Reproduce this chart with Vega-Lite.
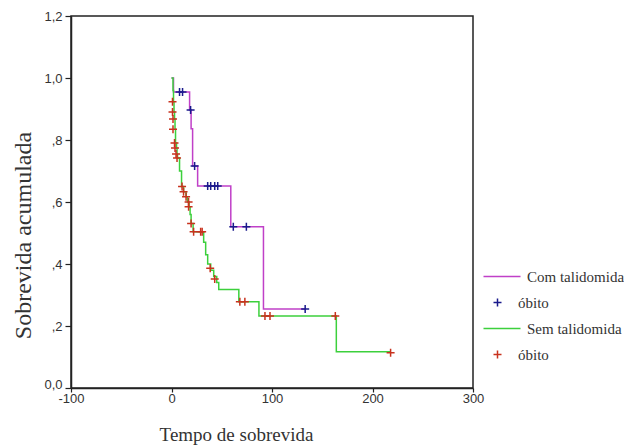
{
  "$schema": "https://vega.github.io/schema/vega-lite/v6.json",
  "width": 402,
  "height": 372,
  "autosize": {"type": "none"},
  "padding": {"left": 71, "top": 16, "right": 151, "bottom": 59},
  "background": "white",
  "config": {
    "view": {"stroke": "#222", "strokeWidth": 1.5},
    "axis": {
      "grid": false,
      "domainColor": "#222",
      "domainWidth": 1.5,
      "tickColor": "#222",
      "tickWidth": 1.2,
      "labelFont": "Liberation Sans",
      "labelFontSize": 13,
      "labelColor": "#333",
      "titleFont": "Liberation Serif",
      "titleFontWeight": "normal",
      "titleColor": "#333"
    }
  },
  "datasets": {
    "km": [
      {"serie": "Com talidomida", "tipo": "curva", "t": 0, "s": 1.0},
      {"serie": "Com talidomida", "tipo": "curva", "t": 2, "s": 0.955},
      {"serie": "Com talidomida", "tipo": "curva", "t": 18, "s": 0.897},
      {"serie": "Com talidomida", "tipo": "curva", "t": 19.5, "s": 0.836},
      {"serie": "Com talidomida", "tipo": "curva", "t": 21, "s": 0.716},
      {"serie": "Com talidomida", "tipo": "curva", "t": 26, "s": 0.652},
      {"serie": "Com talidomida", "tipo": "curva", "t": 59, "s": 0.52},
      {"serie": "Com talidomida", "tipo": "curva", "t": 91.5, "s": 0.255},
      {"serie": "Com talidomida", "tipo": "curva", "t": 133, "s": 0.255},
      {"serie": "óbito (com)", "tipo": "censura", "t": 8, "s": 0.955},
      {"serie": "óbito (com)", "tipo": "censura", "t": 11, "s": 0.955},
      {"serie": "óbito (com)", "tipo": "censura", "t": 19, "s": 0.897},
      {"serie": "óbito (com)", "tipo": "censura", "t": 23, "s": 0.716},
      {"serie": "óbito (com)", "tipo": "censura", "t": 36, "s": 0.652},
      {"serie": "óbito (com)", "tipo": "censura", "t": 39, "s": 0.652},
      {"serie": "óbito (com)", "tipo": "censura", "t": 43, "s": 0.652},
      {"serie": "óbito (com)", "tipo": "censura", "t": 46, "s": 0.652},
      {"serie": "óbito (com)", "tipo": "censura", "t": 61.5, "s": 0.52},
      {"serie": "óbito (com)", "tipo": "censura", "t": 74.5, "s": 0.52},
      {"serie": "óbito (com)", "tipo": "censura", "t": 133, "s": 0.255},
      {"serie": "Sem talidomida", "tipo": "curva", "t": 0, "s": 1.0},
      {"serie": "Sem talidomida", "tipo": "curva", "t": 1.5, "s": 0.96},
      {"serie": "Sem talidomida", "tipo": "curva", "t": 2, "s": 0.923},
      {"serie": "Sem talidomida", "tipo": "curva", "t": 2.5, "s": 0.89},
      {"serie": "Sem talidomida", "tipo": "curva", "t": 3, "s": 0.868},
      {"serie": "Sem talidomida", "tipo": "curva", "t": 3.5, "s": 0.835},
      {"serie": "Sem talidomida", "tipo": "curva", "t": 4, "s": 0.79},
      {"serie": "Sem talidomida", "tipo": "curva", "t": 5, "s": 0.774},
      {"serie": "Sem talidomida", "tipo": "curva", "t": 5.5, "s": 0.755},
      {"serie": "Sem talidomida", "tipo": "curva", "t": 6, "s": 0.742},
      {"serie": "Sem talidomida", "tipo": "curva", "t": 8, "s": 0.7},
      {"serie": "Sem talidomida", "tipo": "curva", "t": 10, "s": 0.65},
      {"serie": "Sem talidomida", "tipo": "curva", "t": 12, "s": 0.633},
      {"serie": "Sem talidomida", "tipo": "curva", "t": 14.5, "s": 0.617},
      {"serie": "Sem talidomida", "tipo": "curva", "t": 16, "s": 0.6},
      {"serie": "Sem talidomida", "tipo": "curva", "t": 17.5, "s": 0.585},
      {"serie": "Sem talidomida", "tipo": "curva", "t": 18.5, "s": 0.56},
      {"serie": "Sem talidomida", "tipo": "curva", "t": 19.5, "s": 0.531},
      {"serie": "Sem talidomida", "tipo": "curva", "t": 21.5, "s": 0.504},
      {"serie": "Sem talidomida", "tipo": "curva", "t": 32, "s": 0.47},
      {"serie": "Sem talidomida", "tipo": "curva", "t": 34, "s": 0.43},
      {"serie": "Sem talidomida", "tipo": "curva", "t": 36, "s": 0.4},
      {"serie": "Sem talidomida", "tipo": "curva", "t": 39, "s": 0.38},
      {"serie": "Sem talidomida", "tipo": "curva", "t": 42, "s": 0.36},
      {"serie": "Sem talidomida", "tipo": "curva", "t": 45, "s": 0.34},
      {"serie": "Sem talidomida", "tipo": "curva", "t": 47, "s": 0.318},
      {"serie": "Sem talidomida", "tipo": "curva", "t": 67, "s": 0.278},
      {"serie": "Sem talidomida", "tipo": "curva", "t": 87, "s": 0.232},
      {"serie": "Sem talidomida", "tipo": "curva", "t": 164, "s": 0.117},
      {"serie": "Sem talidomida", "tipo": "curva", "t": 218, "s": 0.117},
      {"serie": "óbito (sem)", "tipo": "censura", "t": 1, "s": 0.923},
      {"serie": "óbito (sem)", "tipo": "censura", "t": 1, "s": 0.89},
      {"serie": "óbito (sem)", "tipo": "censura", "t": 1.5, "s": 0.868},
      {"serie": "óbito (sem)", "tipo": "censura", "t": 1.5, "s": 0.835},
      {"serie": "óbito (sem)", "tipo": "censura", "t": 3, "s": 0.79},
      {"serie": "óbito (sem)", "tipo": "censura", "t": 3.5, "s": 0.774},
      {"serie": "óbito (sem)", "tipo": "censura", "t": 4.5, "s": 0.755},
      {"serie": "óbito (sem)", "tipo": "censura", "t": 5.5, "s": 0.742},
      {"serie": "óbito (sem)", "tipo": "censura", "t": 10.5, "s": 0.65},
      {"serie": "óbito (sem)", "tipo": "censura", "t": 12, "s": 0.633},
      {"serie": "óbito (sem)", "tipo": "censura", "t": 14.5, "s": 0.617},
      {"serie": "óbito (sem)", "tipo": "censura", "t": 17, "s": 0.6},
      {"serie": "óbito (sem)", "tipo": "censura", "t": 17, "s": 0.585},
      {"serie": "óbito (sem)", "tipo": "censura", "t": 19.5, "s": 0.531},
      {"serie": "óbito (sem)", "tipo": "censura", "t": 22, "s": 0.504},
      {"serie": "óbito (sem)", "tipo": "censura", "t": 29, "s": 0.504},
      {"serie": "óbito (sem)", "tipo": "censura", "t": 30.5, "s": 0.504},
      {"serie": "óbito (sem)", "tipo": "censura", "t": 38.5, "s": 0.386},
      {"serie": "óbito (sem)", "tipo": "censura", "t": 43, "s": 0.352},
      {"serie": "óbito (sem)", "tipo": "censura", "t": 68, "s": 0.278},
      {"serie": "óbito (sem)", "tipo": "censura", "t": 73, "s": 0.278},
      {"serie": "óbito (sem)", "tipo": "censura", "t": 93, "s": 0.232},
      {"serie": "óbito (sem)", "tipo": "censura", "t": 98, "s": 0.232},
      {"serie": "óbito (sem)", "tipo": "censura", "t": 163, "s": 0.232},
      {"serie": "óbito (sem)", "tipo": "censura", "t": 218, "s": 0.114}
    ]
  },
  "data": {"name": "km"},
  "encoding": {
    "x": {
      "field": "t",
      "type": "quantitative",
      "scale": {"domain": [-100, 300], "nice": false, "zero": false},
      "axis": {
        "values": [-100, 0, 100, 200, 300],
        "tickSize": 4,
        "labelPadding": 0,
        "labelFlush": false,
        "labelExpr": "datum.value < 0 ? '-' + abs(datum.value) : '' + datum.value",
        "title": "Tempo de sobrevida",
        "titleFontSize": 19,
        "titleX": 165,
        "titleY": 52,
        "titleBaseline": "alphabetic",
        "titleAlign": "center"
      }
    },
    "y": {
      "field": "s",
      "type": "quantitative",
      "scale": {"domain": [0, 1.2], "nice": false},
      "axis": {
        "values": [0, 0.2, 0.4, 0.6, 0.8, 1.0, 1.2],
        "tickSize": 6,
        "labelPadding": 3,
        "labelFlush": false,
        "labelOffset": {"condition": {"test": "datum.value == 0", "value": -4}, "value": 0},
        "labelExpr": "datum.value > 0.001 && datum.value < 0.999 ? replace(format(datum.value, '.1f'), '0.', ',') : replace(format(datum.value, '.1f'), '.', ',')",
        "title": "Sobrevida acumulada",
        "titleFontSize": 24,
        "titleAngle": -90,
        "titleX": -41,
        "titleY": 219,
        "titleBaseline": "alphabetic",
        "titleAlign": "center"
      }
    },
    "color": {
      "field": "serie",
      "type": "nominal",
      "scale": {
        "domain": ["Com talidomida", "óbito (com)", "Sem talidomida", "óbito (sem)"],
        "range": ["#c040c8", "#1a1a8c", "#3cd03c", "#c8321e"]
      },
      "legend": {
        "orient": "none",
        "legendX": 419,
        "legendY": 253,
        "title": null,
        "symbolSize": 64,
        "symbolStrokeWidth": 1.5,
        "labelFont": "Liberation Serif",
        "labelFontSize": 15,
        "labelColor": "#333",
        "labelOffset": 13,
        "rowPadding": 10,
        "labelExpr": "indexof(datum.label, 'óbito') == 0 ? 'óbito' : datum.label",
        "encode": {
          "labels": {
            "update": {
              "dx": {"signal": "indexof(datum.label, 'óbito') == 0 ? 0 : 9"}
            }
          }
        }
      }
    }
  },
  "layer": [
    {
      "transform": [{"filter": "datum.tipo == 'curva'"}],
      "mark": {"type": "line", "interpolate": "step-after", "strokeWidth": 1.5},
      "encoding": {
        "shape": {
          "field": "serie",
          "type": "nominal",
          "scale": {
            "domain": ["Com talidomida", "óbito (com)", "Sem talidomida", "óbito (sem)"],
            "range": ["M-3.5,0H5.75", "M-1,0H1M0,-1V1", "M-3.5,0H5.75", "M-1,0H1M0,-1V1"]
          }
        }
      }
    },
    {
      "transform": [{"filter": "datum.tipo == 'censura'"}],
      "mark": {"type": "point", "filled": false, "size": 64, "strokeWidth": 1.5, "opacity": 1},
      "encoding": {
        "shape": {
          "field": "serie",
          "type": "nominal",
          "scale": {
            "domain": ["Com talidomida", "óbito (com)", "Sem talidomida", "óbito (sem)"],
            "range": ["M-3.5,0H5.75", "M-1,0H1M0,-1V1", "M-3.5,0H5.75", "M-1,0H1M0,-1V1"]
          }
        }
      }
    }
  ]
}
